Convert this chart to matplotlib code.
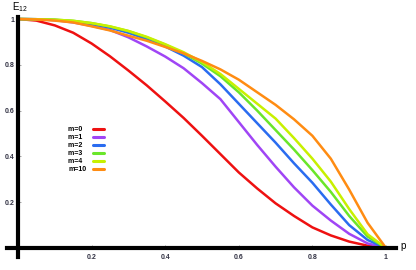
import matplotlib
matplotlib.use("Agg")
import matplotlib.pyplot as plt

plt.rcParams["font.family"] = ["Liberation Sans", "DejaVu Sans"]

# values
p = [0, .05, .1, .15, .2, .25, .3, .35, .4, .45, .5,
     .55, .6, .65, .7, .75, .8, .85, .9, .95, 1]
e_m0 = [1, .993, .972, .94, .893, .837, .775, .71, .64, .568, .49,
        .41, .33, .26, .195, .14, .09, .055, .028, .01, 0]
e_m1 = [1, .999, .995, .985, .97, .952, .92, .88, .836, .785, .72,
        .65, .55, .45, .355, .265, .185, .12, .062, .02, 0]
e_m2 = [1, .999, .996, .99, .978, .962, .94, .912, .88, .84, .79,
        .715, .63, .545, .46, .37, .285, .19, .10, .035, 0]
e_m3 = [1, .999, .997, .992, .982, .967, .947, .92, .888, .85, .805,
        .75, .68, .60, .515, .43, .34, .245, .14, .05, 0]
e_m4 = [1, .999, .997, .992, .982, .968, .948, .922, .89, .855, .812,
        .76, .695, .63, .565, .48, .39, .29, .17, .06, 0]
e_m10 = [1, .998, .993, .985, .968, .95, .927, .905, .878, .85, .817,
         .78, .735, .68, .625, .562, .49, .39, .255, .11, 0]

labels = ["m=0", "m=1", "m=2", "m=3", "m=4", "m=10"]
colors = ["#ee1111", "#a045f5", "#2a6cf0", "#6ae62a", "#c8f000", "#ff8c12"]
series = [e_m0, e_m1, e_m2, e_m3, e_m4, e_m10]
xticks = [0.2, 0.4, 0.6, 0.8, 1]
yticks = [0.2, 0.4, 0.6, 0.8, 1]

fig = plt.figure(figsize=(4.16, 2.70), dpi=100)
ax = fig.add_axes([0, 0, 1, 1])

for vals, c, lab in zip(series, colors, labels):
    # pad short labels with a figure space so the texts line up on the left
    ax.plot(p, vals, color=c, lw=1.8, label=lab.ljust(4, "\u2007"),
            solid_capstyle="round")

ax.set_xlim(-18 / 368, 398 / 368)
ax.set_ylim(-22 / 229, 248 / 229)

# axes cross at the origin
for s in ["top", "right"]:
    ax.spines[s].set_visible(False)
ax.spines["left"].set_position(("data", 0))
ax.spines["bottom"].set_position(("data", 0))
ax.spines["left"].set_bounds(-0.04, 1.01)
ax.spines["bottom"].set_bounds(-0.03, 1.027)
ax.spines["left"].set_linewidth(3)
ax.spines["bottom"].set_linewidth(3)

ax.set_xticks(xticks)
ax.set_xticklabels(["0.2", "0.4", "0.6", "0.8", "1"])
ax.set_yticks(yticks)
ax.set_yticklabels(["0.2", "0.4", "0.6", "0.8", "1"])
ax.tick_params(axis="both", direction="in", length=2, width=0.6,
               color="#999999", labelsize=5, labelcolor="#333344")
ax.tick_params(axis="x", pad=4)
ax.tick_params(axis="y", pad=2.5)
for t in ax.get_xticklabels() + ax.get_yticklabels():
    t.set_fontweight("bold")

fig.text(12 / 416, 1 - 7 / 270, r"$\mathregular{E_{12}}$", fontsize=7,
         va="center", ha="left")
ax.text(382 / 368, 0.01, "p", fontsize=7, va="center", ha="left")

leg = ax.legend(loc="upper left", bbox_to_anchor=(68 / 416, 1 - 126 / 270),
                frameon=False, markerfirst=False, fontsize=5,
                labelspacing=0.15, handlelength=1.7, handletextpad=0.9,
                borderpad=0, borderaxespad=0)
for t in leg.get_texts():
    t.set_fontweight("bold")
for h in leg.get_lines():
    h.set_linewidth(2.2)

fig.savefig("out.png", dpi=100)
